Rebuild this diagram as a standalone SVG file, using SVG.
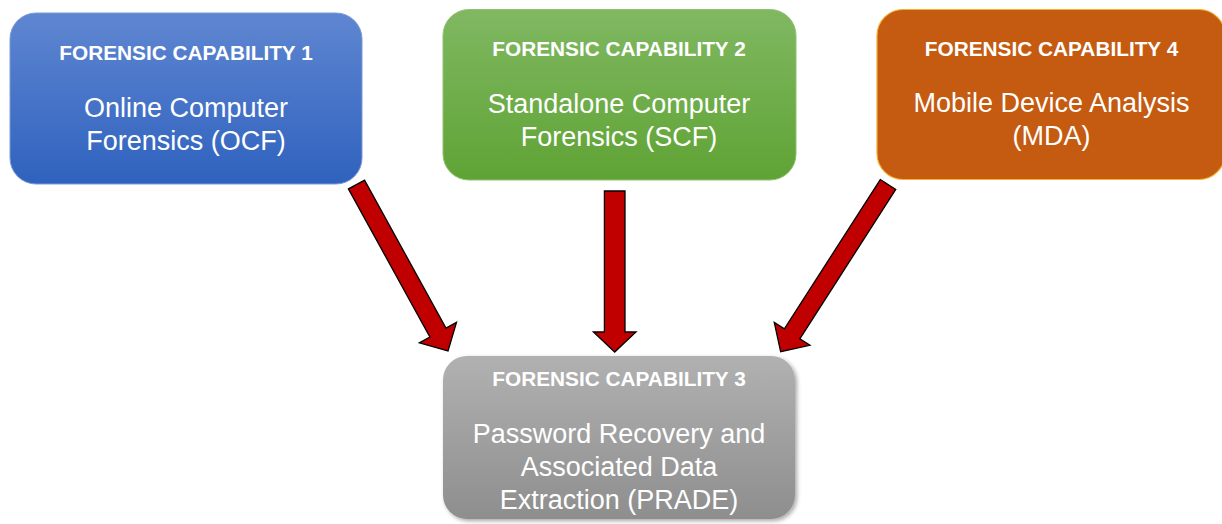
<svg xmlns="http://www.w3.org/2000/svg" width="1222" height="524" viewBox="0 0 1222 524">
<style>
  .title { font-family: "Liberation Sans", Arial, sans-serif; font-weight: bold; font-size: 20.8px; fill: #ffffff; text-anchor: middle; }
  .body { font-family: "Liberation Sans", Arial, sans-serif; font-size: 27px; fill: #ffffff; text-anchor: middle; }
  .arrow { fill: #c00000; stroke: #000000; stroke-width: 1.3; stroke-linejoin: miter; }
</style>
<defs>
  <linearGradient id="gBlue" x1="0" y1="0" x2="0" y2="1">
    <stop offset="0" stop-color="#5f86d1"/>
    <stop offset="1" stop-color="#2f62be"/>
  </linearGradient>
  <linearGradient id="gGreen" x1="0" y1="0" x2="0" y2="1">
    <stop offset="0" stop-color="#80b862"/>
    <stop offset="1" stop-color="#5fa334"/>
  </linearGradient>
  <linearGradient id="gGray" x1="0" y1="0" x2="0" y2="1">
    <stop offset="0" stop-color="#b1b1b1"/>
    <stop offset="1" stop-color="#8e8e8e"/>
  </linearGradient>
  <filter id="shadow" x="-10%" y="-10%" width="125%" height="130%">
    <feDropShadow dx="2" dy="2" stdDeviation="2" flood-color="#000000" flood-opacity="0.35"/>
  </filter>
</defs>

<g id="connectors">
  <polygon class="arrow" transform="translate(356.5,184.5) rotate(-28.8)" points="-9.2,0 9.2,0 9.2,169 21.2,169 0,190 -21.2,169 -9.2,169"/>
  <polygon class="arrow" transform="translate(614.7,191)" points="-10.3,0 10.3,0 10.3,141 21.3,141 0,161 -21.3,141 -10.3,141"/>
  <polygon class="arrow" transform="translate(888,184.5) rotate(32.7)" points="-9.2,0 9.2,0 9.2,177.5 21.2,177.5 0,198.7 -21.2,177.5 -9.2,177.5"/>
</g>

<g id="node-fc1">
  <rect x="10" y="13" width="352" height="171" rx="26" ry="26" fill="url(#gBlue)" stroke="#7a9ad8" stroke-width="1"/>
  <text class="title" x="186" y="59.5">FORENSIC CAPABILITY 1</text>
  <text class="body" x="186" y="117">Online Computer</text>
  <text class="body" x="186" y="149.5">Forensics (OCF)</text>
</g>

<g id="node-fc2">
  <rect x="443" y="9.5" width="353" height="170.5" rx="26" ry="26" fill="url(#gGreen)" stroke="#8fc172" stroke-width="1"/>
  <text class="title" x="619" y="55.5">FORENSIC CAPABILITY 2</text>
  <text class="body" x="619" y="113">Standalone Computer</text>
  <text class="body" x="619" y="145.5">Forensics (SCF)</text>
</g>

<g id="node-fc4">
  <rect x="877" y="9.5" width="348" height="170" rx="26" ry="26" fill="#c55a11" stroke="#f5b031" stroke-width="1.2"/>
  <text class="title" x="1051.5" y="55.5">FORENSIC CAPABILITY 4</text>
  <text class="body" x="1051.5" y="112">Mobile Device Analysis</text>
  <text class="body" x="1051.5" y="145">(MDA)</text>
</g>

<g id="node-fc3">
  <rect x="443" y="356" width="352" height="163" rx="24" ry="24" fill="url(#gGray)" filter="url(#shadow)"/>
  <text class="title" x="619" y="385.5">FORENSIC CAPABILITY 3</text>
  <text class="body" x="619" y="443">Password Recovery and</text>
  <text class="body" x="619" y="476">Associated Data</text>
  <text class="body" x="619" y="509">Extraction (PRADE)</text>
</g>
</svg>
